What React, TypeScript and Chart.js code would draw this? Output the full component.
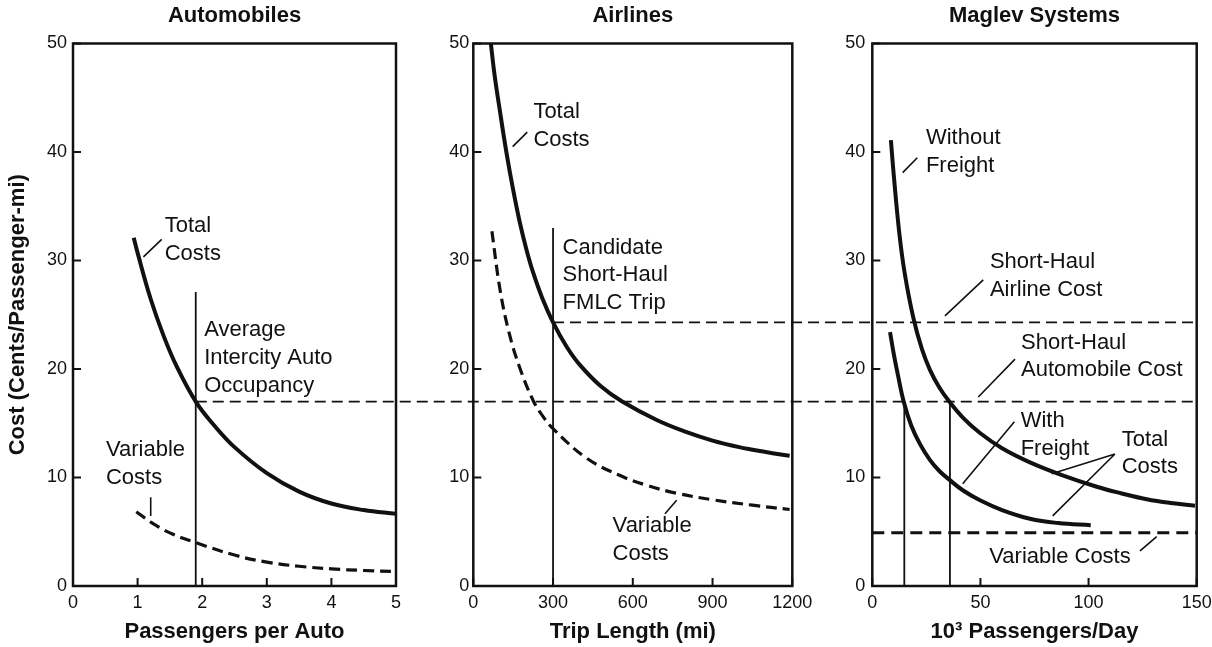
import React, { useEffect, useRef } from "react";
import { Chart, registerables } from "chart.js";

Chart.register(...registerables);

// ---------------- data ----------------
const costTicks = [0, 10, 20, 30, 40, 50];
const autoTicks = [0, 1, 2, 3, 4, 5];
const airTicks = [0, 300, 600, 900, 1200];
const magTicks = [0, 50, 100, 150];

// Automobiles
const autoTotalX = [0.94, 1.0, 1.2, 1.4, 1.6, 1.9, 2.2, 2.5, 3.0, 3.5, 4.0, 4.5, 5.0];
const autoTotal = [32.1, 30.7, 26.5, 23.1, 20.3, 17.0, 14.7, 12.8, 10.4, 8.7, 7.6, 7.0, 6.65];
const autoVarX = [0.98, 1.2, 1.5, 1.9, 2.5, 3.0, 3.5, 4.0, 4.5, 5.0];
const autoVariable = [6.85, 5.9, 4.9, 4.0, 2.85, 2.2, 1.82, 1.58, 1.43, 1.34];
const autoOccupancy = 1.9;
const autoOccupancyTop = 27.1;

// Airlines
const airTotalX = [66, 80, 100, 125, 150, 175, 200, 225, 260, 300, 350, 400, 480, 560, 690, 800, 900, 1000, 1100, 1190];
const airTotal = [50, 47.1, 43.8, 39.9, 36.5, 33.5, 31.0, 28.9, 26.5, 24.3, 22.1, 20.4, 18.4, 17.0, 15.3, 14.2, 13.4, 12.8, 12.35, 12.0];
const airVarX = [70, 100, 135, 175, 225, 260, 300, 425, 550, 650, 765, 900, 1050, 1190];
const airVariable = [32.7, 27.4, 23.3, 20.1, 17.1, 15.7, 14.5, 11.8, 10.2, 9.3, 8.55, 7.95, 7.45, 7.05];
const candidateTrip = 300;
const candidateTop = 33.0;

// Maglev systems
const magWithoutX = [8.6, 10, 12.5, 15, 19, 23, 26.7, 31, 35.6, 42, 49.8, 60, 72.9, 88, 103.8, 115, 126.9, 138, 149.2];
const magWithout = [41.1, 37.7, 32.5, 28.8, 24.7, 21.8, 19.9, 18.3, 17.0, 15.5, 14.1, 12.7, 11.4, 10.2, 9.15, 8.55, 8.0, 7.65, 7.4];
const magWithX = [8.2, 10, 12, 14.5, 18, 22, 26.7, 31, 35.6, 42, 49.8, 60, 72.9, 86, 101];
const magWith = [23.4, 21.3, 19.3, 17.0, 14.8, 13.1, 11.6, 10.6, 9.8, 8.8, 7.9, 7.0, 6.2, 5.8, 5.6];
const magVariableX = [0, 150];
const magVariable = [4.9, 4.9];
const magCrossings = [14.8, 35.9];

// shared reference levels
const autoCostLevel = 17;
const airlineCostLevel = 24.3;

// ---------------- styling ----------------
const W = 1212;
const H = 647;
const INK = "#111111";
const SANS = '"Liberation Sans", Arial, Helvetica, sans-serif';
const NOTE_FONT = `22px ${SANS}`;
const NOTE_LINE = 27.7;

type Note = { x: number; y: number; lines: string[] };
type Leader = [number, number, number, number];
type Series = { x: number[]; y: number[]; width: number; dash?: number[]; smooth?: boolean };

type Panel = {
  title: string;
  xTitle: string;
  yTitle?: string;
  xMax: number;
  xTicks: number[];
  padLeft: number;
  padRight: number;
  yWidth: number;
  yPad: number;
  series: Series[];
  notes: Note[];
  leaders: Leader[];
};

const pts = (xs: number[], ys: number[]) => xs.map((x, i) => ({ x, y: ys[i] }));

const panels: Panel[] = [
  {
    title: "Automobiles",
    xTitle: "Passengers per Auto",
    yTitle: "Cost (Cents/Passenger-mi)",
    xMax: 5,
    xTicks: autoTicks,
    padLeft: 0,
    padRight: 816,
    yWidth: 73,
    yPad: 6,
    series: [
      { x: autoTotalX, y: autoTotal, width: 4, smooth: true },
      { x: autoVarX, y: autoVariable, width: 3.2, dash: [11, 6], smooth: true },
      { x: [autoOccupancy, autoOccupancy], y: [0, autoOccupancyTop], width: 1.8 },
    ],
    notes: [
      { x: 1.42, y: 33.16, lines: ["Total", "Costs"] },
      { x: 2.03, y: 23.58, lines: ["Average", "Intercity Auto", "Occupancy"] },
      { x: 0.51, y: 12.54, lines: ["Variable", "Costs"] },
    ],
    leaders: [
      [1.09, 30.34, 1.373, 31.94],
      [1.203, 8.17, 1.203, 6.46],
    ],
  },
  {
    title: "Airlines",
    xTitle: "Trip Length (mi)",
    xMax: 1200,
    xTicks: airTicks,
    padLeft: 413.3,
    padRight: 419.7,
    yWidth: 60,
    yPad: 4,
    series: [
      { x: airTotalX, y: airTotal, width: 4, smooth: true },
      { x: airVarX, y: airVariable, width: 3.2, dash: [11, 6], smooth: true },
      { x: [candidateTrip, candidateTrip], y: [0, candidateTop], width: 1.8 },
    ],
    notes: [
      { x: 226, y: 43.66, lines: ["Total", "Costs"] },
      { x: 336, y: 31.18, lines: ["Candidate", "Short-Haul", "FMLC Trip"] },
      { x: 524, y: 5.51, lines: ["Variable", "Costs"] },
    ],
    leaders: [
      [148, 40.5, 203, 41.83],
      [721, 6.65, 765, 7.91],
    ],
  },
  {
    title: "Maglev Systems",
    xTitle: "10³ Passengers/Day",
    xMax: 150,
    xTicks: magTicks,
    padLeft: 812.3,
    padRight: 15.3,
    yWidth: 60,
    yPad: 7,
    series: [
      { x: magWithoutX, y: magWithout, width: 4, smooth: true },
      { x: magWithX, y: magWith, width: 4, smooth: true },
      { x: magVariableX, y: magVariable, width: 3, dash: [12, 7] },
      { x: [magCrossings[0], magCrossings[0]], y: [0, autoCostLevel], width: 1.8 },
      { x: [magCrossings[1], magCrossings[1]], y: [0, autoCostLevel], width: 1.8 },
    ],
    notes: [
      { x: 24.8, y: 41.26, lines: ["Without", "Freight"] },
      { x: 54.4, y: 29.85, lines: ["Short-Haul", "Airline Cost"] },
      { x: 68.8, y: 22.43, lines: ["Short-Haul", "Automobile Cost"] },
      { x: 68.6, y: 15.21, lines: ["With", "Freight"] },
      { x: 115.3, y: 13.5, lines: ["Total", "Costs"] },
      { x: 54.1, y: 2.66, lines: ["Variable Costs"] },
    ],
    leaders: [
      [14.05, 38.1, 20.8, 39.47],
      [33.6, 24.9, 51.3, 28.21],
      [49.0, 17.42, 66.0, 20.91],
      [41.8, 9.43, 65.7, 15.13],
      [112.2, 12.17, 82.95, 10.34],
      [112.2, 12.17, 83.4, 6.46],
      [123.8, 3.23, 131.5, 4.56],
    ],
  },
];

// ---------------- plugins ----------------
const framePlugin = {
  id: "frame",
  afterDraw(chart: any) {
    const { ctx, chartArea } = chart;
    const { left, right, top, bottom } = chartArea;
    const xs = chart.scales.x;
    const ys = chart.scales.y;
    ctx.save();
    ctx.strokeStyle = INK;
    ctx.lineWidth = 2.5;
    ctx.strokeRect(left, top, right - left, bottom - top);
    ctx.lineWidth = 2;
    ctx.beginPath();
    xs.ticks.forEach((t: any) => {
      const px = xs.getPixelForValue(t.value);
      ctx.moveTo(px, bottom);
      ctx.lineTo(px, bottom - 8);
    });
    ys.ticks.forEach((t: any) => {
      const py = ys.getPixelForValue(t.value);
      ctx.moveTo(left, py);
      ctx.lineTo(left + 8, py);
    });
    ctx.stroke();
    ctx.restore();
  },
};

const notesPlugin = (p: Panel) => ({
  id: "notes",
  afterDatasetsDraw(chart: any) {
    const { ctx } = chart;
    const xs = chart.scales.x;
    const ys = chart.scales.y;
    ctx.save();
    ctx.fillStyle = INK;
    ctx.strokeStyle = INK;
    ctx.font = NOTE_FONT;
    ctx.textAlign = "left";
    ctx.textBaseline = "middle";
    p.notes.forEach((n) => {
      const px = xs.getPixelForValue(n.x);
      const py = ys.getPixelForValue(n.y);
      n.lines.forEach((line, i) => ctx.fillText(line, px, py + i * NOTE_LINE));
    });
    ctx.lineWidth = 1.6;
    ctx.beginPath();
    p.leaders.forEach(([x1, y1, x2, y2]) => {
      ctx.moveTo(xs.getPixelForValue(x1), ys.getPixelForValue(y1));
      ctx.lineTo(xs.getPixelForValue(x2), ys.getPixelForValue(y2));
    });
    ctx.stroke();
    ctx.restore();
  },
});

// reference levels that run across the panels
const connectorPlugin = (charts: any[]) => ({
  id: "connectors",
  afterDatasetsDraw(chart: any) {
    const [auto, air] = charts;
    if (!auto || !air) return;
    const { ctx } = chart;
    const right = chart.scales.x.getPixelForValue(magTicks[magTicks.length - 1]);
    const lines: [number, number][] = [
      [auto.scales.x.getPixelForValue(autoOccupancy), chart.scales.y.getPixelForValue(autoCostLevel)],
      [air.scales.x.getPixelForValue(candidateTrip), chart.scales.y.getPixelForValue(airlineCostLevel)],
    ];
    ctx.save();
    ctx.strokeStyle = INK;
    ctx.lineWidth = 1.8;
    ctx.setLineDash([11, 6]);
    lines.forEach(([x0, y]) => {
      ctx.beginPath();
      ctx.moveTo(x0, y);
      ctx.lineTo(right, y);
      ctx.stroke();
    });
    ctx.restore();
  },
});

const noPad = (s: any) => {
  s.paddingLeft = 0;
  s.paddingRight = 0;
  s.paddingTop = 0;
  s.paddingBottom = 0;
};

function panelConfig(p: Panel, extra: any[]): any {
  return {
    type: "line",
    data: {
      datasets: p.series.map((s) => ({
        data: pts(s.x, s.y),
        borderColor: INK,
        backgroundColor: INK,
        borderWidth: s.width,
        borderDash: s.dash || [],
        borderCapStyle: "butt",
        pointRadius: 0,
        fill: false,
        tension: s.smooth ? 0.4 : 0,
      })),
    },
    options: {
      responsive: false,
      animation: false,
      devicePixelRatio: 1,
      events: [],
      layout: { padding: { left: p.padLeft, right: p.padRight, top: 0, bottom: 0 } },
      plugins: {
        legend: { display: false },
        tooltip: { enabled: false },
        title: {
          display: true,
          text: p.title,
          fullSize: false,
          color: INK,
          font: { family: SANS, size: 22, weight: "bold" },
          padding: { top: 2.3, bottom: 14.8 },
        },
      },
      scales: {
        x: {
          type: "linear",
          min: 0,
          max: p.xMax,
          afterBuildTicks: (s: any) => {
            s.ticks = p.xTicks.map((v) => ({ value: v }));
          },
          afterFit: (s: any) => {
            s.height = 61;
            noPad(s);
          },
          grid: { display: false, drawTicks: false },
          border: { display: false },
          ticks: {
            padding: 6,
            color: INK,
            maxRotation: 0,
            autoSkip: false,
            font: { family: SANS, size: 18 },
            callback: (v: any) => String(v),
          },
          title: {
            display: true,
            text: p.xTitle,
            color: INK,
            font: { family: SANS, size: 22, weight: "bold" },
            padding: { top: 0, bottom: 1.8 },
          },
        },
        y: {
          type: "linear",
          min: 0,
          max: 50,
          afterBuildTicks: (s: any) => {
            s.ticks = costTicks.map((v) => ({ value: v }));
          },
          afterFit: (s: any) => {
            s.width = p.yWidth;
            noPad(s);
          },
          grid: { display: false, drawTicks: false },
          border: { display: false },
          ticks: {
            padding: p.yPad,
            color: INK,
            autoSkip: false,
            font: { family: SANS, size: 18 },
            callback: (v: any) => String(v),
          },
          title: p.yTitle
            ? {
                display: true,
                text: p.yTitle,
                color: INK,
                font: { family: SANS, size: 22, weight: "bold" },
                padding: { top: 4.3, bottom: 0 },
              }
            : { display: false },
        },
      },
    },
    plugins: [framePlugin, notesPlugin(p), ...extra],
  };
}

export default function App() {
  const refs = [useRef<HTMLCanvasElement>(null), useRef<HTMLCanvasElement>(null), useRef<HTMLCanvasElement>(null)];

  useEffect(() => {
    const charts: any[] = [];
    panels.forEach((p, i) => {
      const canvas = refs[i].current;
      if (!canvas) return;
      const extra = i === 2 ? [connectorPlugin(charts)] : [];
      charts.push(new Chart(canvas, panelConfig(p, extra)));
    });
    return () => charts.forEach((c) => c.destroy());
  }, []);

  return (
    <div style={{ position: "fixed", left: 0, top: 0, width: W, height: H, background: "#ffffff" }}>
      {refs.map((r, i) => (
        <canvas
          key={i}
          ref={r}
          width={W}
          height={H}
          style={{ position: "absolute", left: 0, top: 0, width: W, height: H }}
        />
      ))}
    </div>
  );
}
